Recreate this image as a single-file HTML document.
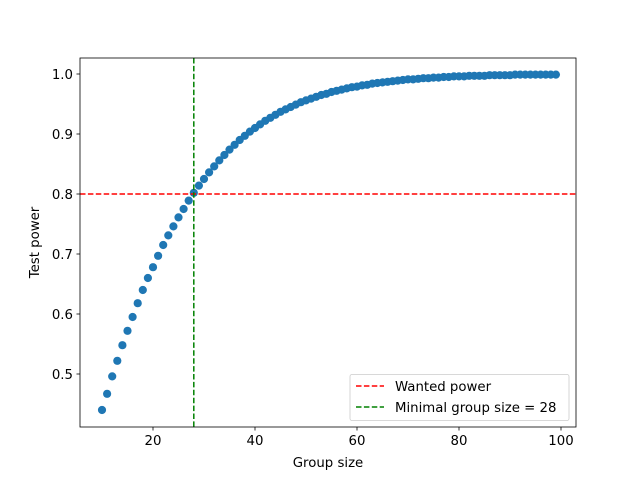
<!DOCTYPE html>
<html><head><meta charset="utf-8"><style>body{margin:0;background:#fff}svg{display:block;font-family:"DejaVu Sans","Liberation Sans",sans-serif}</style></head>
<body>
<svg id="chart" width="640" height="480" viewBox="0 0 640 480" xmlns="http://www.w3.org/2000/svg">
<rect width="640" height="480" fill="#fff"/>
<g id="plot"></g>
</svg>
<script>
const groupSizes = [];
for (let n = 10; n <= 99; n++) groupSizes.push(n);
const powerValues = [0.440,0.467,0.496,0.522,0.548,0.572,0.595,0.618,0.640,0.660,
0.678,0.697,0.715,0.731,0.746,0.761,0.775,0.789,0.802,0.814,
0.825,0.836,0.846,0.856,0.865,0.874,0.882,0.890,0.897,0.904,
0.910,0.916,0.922,0.927,0.932,0.937,0.941,0.945,0.949,0.953,
0.956,0.959,0.962,0.965,0.967,0.970,0.972,0.974,0.976,0.978,
0.979,0.981,0.982,0.984,0.985,0.986,0.987,0.988,0.989,0.990,
0.991,0.991,0.992,0.993,0.993,0.994,0.994,0.995,0.995,0.996,
0.996,0.996,0.997,0.997,0.997,0.997,0.998,0.998,0.998,0.998,
0.998,0.999,0.999,0.999,0.999,0.999,0.999,0.999,0.999,0.999];
const xTicks = [20,40,60,80,100];
const yTicks = [0.5,0.6,0.7,0.8,0.9,1.0];
const wantedPower = 0.8;
const minimalGroupSize = 28;

const L=80,R=576,T=58,B=427;
const xS=v=>51+v*5.1;
const yS=v=>74+(1.0-v)*600;
const NS="http://www.w3.org/2000/svg";
const g=document.getElementById('plot');
function mk(tag,attrs,parent){const e=document.createElementNS(NS,tag);for(const k in attrs)e.setAttribute(k,attrs[k]);(parent||g).appendChild(e);return e;}

const pts=mk('g',{});


groupSizes.forEach((n,i)=>{const c=mk('circle',{cx:xS(n),cy:yS(powerValues[i]),r:4.1,fill:'#1f77b4'},pts);

});

const h=mk('line',{x1:L,x2:R,y1:yS(wantedPower),y2:yS(wantedPower),stroke:'#ff0000','stroke-width':1.5,'stroke-dasharray':'5.5,2.4'});


const v=mk('line',{x1:xS(minimalGroupSize),x2:xS(minimalGroupSize),y1:T,y2:B,stroke:'#008000','stroke-width':1.5,'stroke-dasharray':'5.5,2.4'});



const fr=mk('rect',{x:L,y:T,width:R-L,height:B-T,fill:'none',stroke:'#000','stroke-width':0.8});



xTicks.forEach(t=>{const x=xS(t);mk('line',{x1:x,x2:x,y1:B,y2:B+3.5,stroke:'#000','stroke-width':0.8});
const tx=mk('text',{x:x,y:B+18,'text-anchor':'middle','font-size':13.3,fill:'#000'});tx.textContent=t;

});
yTicks.forEach(t=>{const y=yS(t);mk('line',{x1:L,x2:L-3.5,y1:y,y2:y,stroke:'#000','stroke-width':0.8});
const tx=mk('text',{x:L-7,y:y+4.8,'text-anchor':'end','font-size':13.3,fill:'#000'});tx.textContent=t.toFixed(1);

});

const xl=mk('text',{x:(L+R)/2,y:467,'text-anchor':'middle','font-size':13.3});xl.textContent='Group size';


const yl=mk('text',{x:0,y:0,'text-anchor':'middle','font-size':13.3,transform:'translate(39,'+((T+B)/2)+') rotate(-90)'});yl.textContent='Test power';



const lg=mk('g',{});


mk('rect',{x:350,y:374.5,width:219,height:46,rx:2,fill:'#fff','fill-opacity':0.8,stroke:'#ccc','stroke-width':0.8},lg);
[['Wanted power','#ff0000',386],['Minimal group size = 28','#008000',407]].forEach(([lab,col,y])=>{
const e=mk('g',{},lg);


mk('line',{x1:356,x2:384,y1:y,y2:y,stroke:col,'stroke-width':1.5,'stroke-dasharray':'5.5,2.4'},e);
const t=mk('text',{x:395,y:y+4.8,'font-size':13.3},e);t.textContent=lab;});
</script>
</body></html>
